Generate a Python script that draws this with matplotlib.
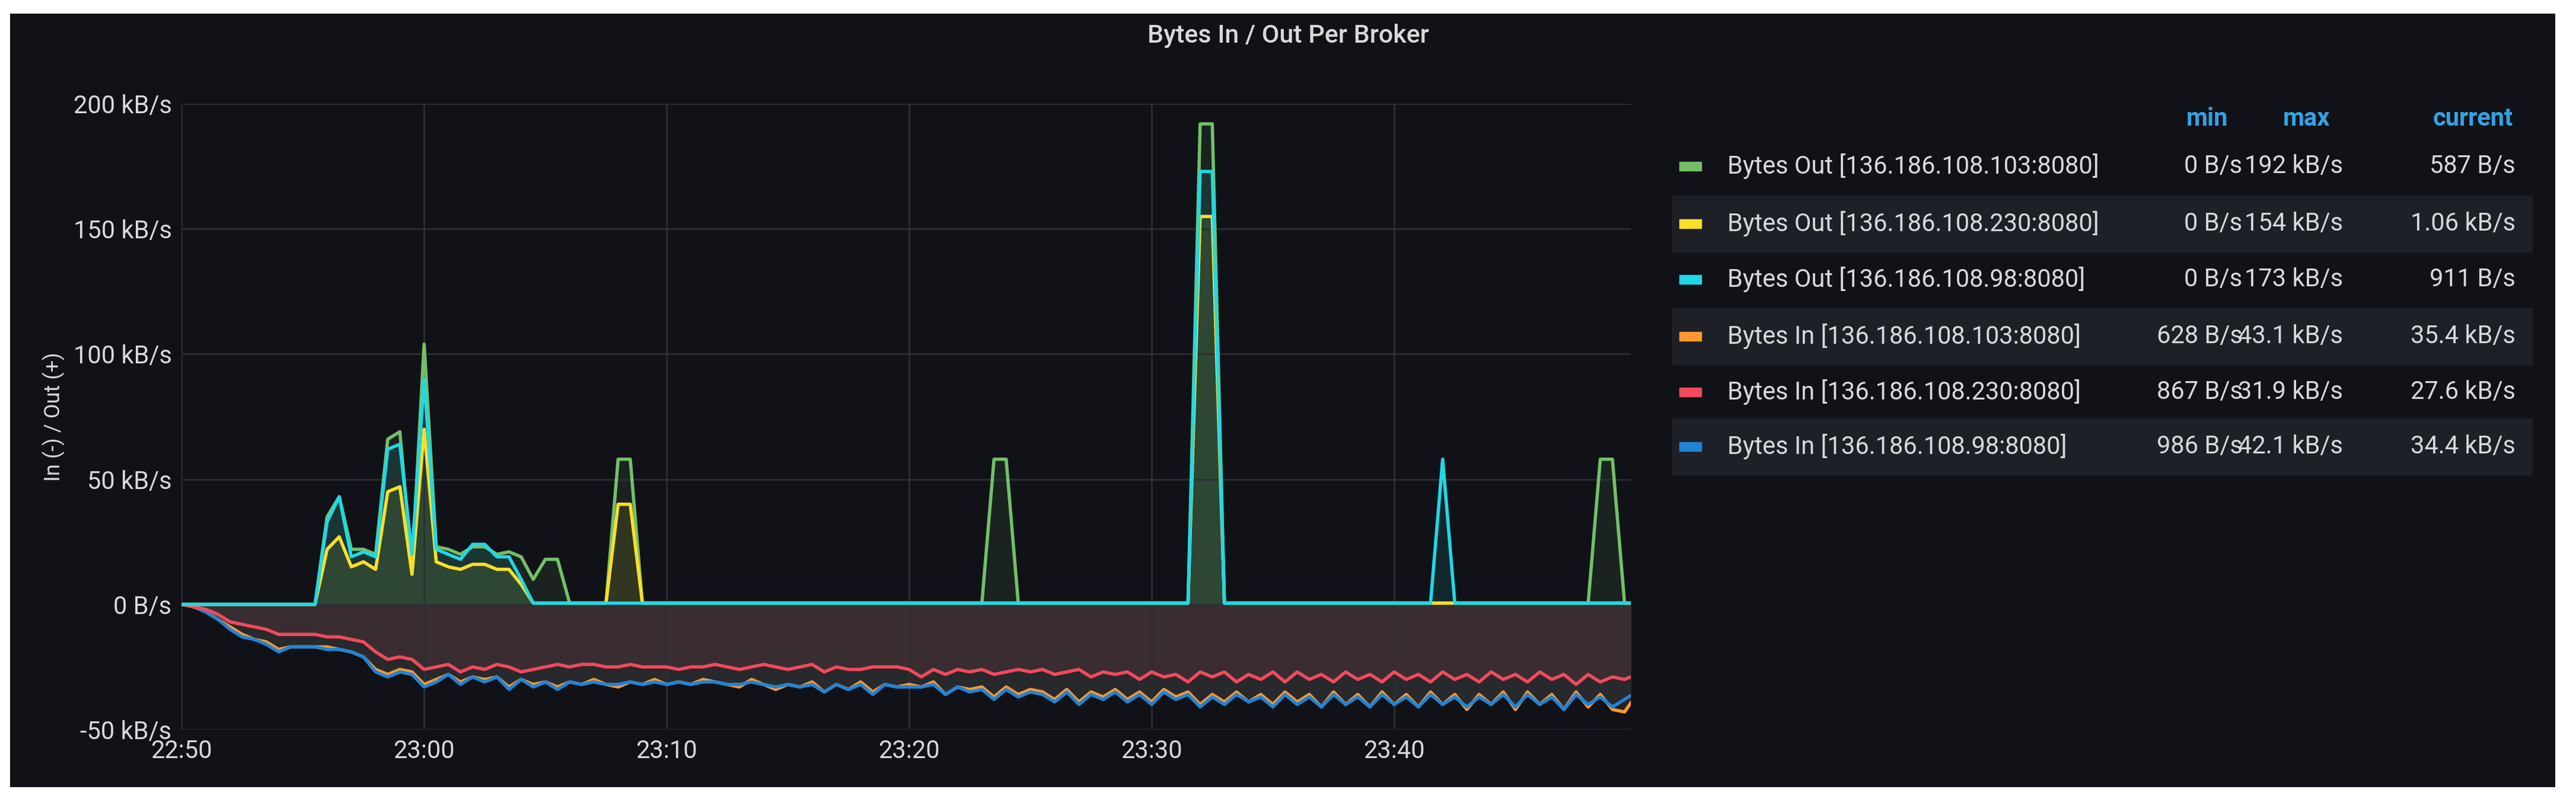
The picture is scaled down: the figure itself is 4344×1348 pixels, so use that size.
import numpy as np
import matplotlib.pyplot as plt
import matplotlib.dates as mdates
from datetime import datetime, timedelta

plt.rcParams['font.family'] = ['Roboto', 'DejaVu Sans']

# half-minute samples from 22:50 to 23:50
start = datetime(2020, 1, 1, 22, 50)
times = [start + timedelta(seconds=30 * i) for i in range(121)]

def spikes(pairs, base=0.5):
    v = [0.0] * 121
    for k in range(22, 121):
        v[k] = base
    for i, val in pairs:
        v[i] = val
    return v

# Bytes Out (positive)
out_103 = spikes([(11, 0), (12, 35), (13, 43), (14, 22), (15, 22), (16, 20), (17, 66), (18, 69), (19, 15),
                  (20, 104), (21, 23), (22, 22), (23, 20), (24, 23), (25, 23), (26, 20), (27, 21), (28, 19),
                  (29, 10), (30, 18), (31, 18), (32, 0.5), (35, 0.5), (36, 58), (37, 58),
                  (67, 58), (68, 58), (84, 192), (85, 192), (117, 58), (118, 58)])
out_230 = spikes([(11, 0), (12, 22), (13, 27), (14, 15), (15, 17), (16, 14), (17, 45), (18, 47), (19, 12),
                  (20, 70), (21, 17), (22, 15), (23, 14), (24, 16), (25, 16), (26, 14), (27, 14), (28, 8),
                  (36, 40), (37, 40), (84, 155), (85, 155)])
out_98 = spikes([(11, 0), (12, 33), (13, 43), (14, 19), (15, 21), (16, 19), (17, 62), (18, 64), (19, 20),
                 (20, 90), (21, 22), (22, 20), (23, 18), (24, 24), (25, 24), (26, 19), (27, 19), (28, 10),
                 (84, 173), (85, 173), (104, 58)])

# Bytes In (drawn negative)
in_230 = [0, -1, -2, -4, -7, -8, -9, -10, -12, -12, -12,
          -12, -13, -13, -14, -15, -19, -22, -21, -22, -26,
          -25, -24, -27, -25, -26, -24, -25, -27, -26, -25,
          -24, -25, -24, -24, -25, -25, -24, -25, -25, -25,
          -26, -25, -25, -24, -25, -26, -25, -24, -25, -26,
          -25, -24, -27, -25, -26, -26, -25, -25, -25, -26,
          -29, -26, -28, -26, -27, -26, -28, -27, -26, -27,
          -26, -28, -27, -26, -29, -27, -28, -27, -30, -27,
          -29, -28, -31, -27, -29, -27, -31, -28, -30, -27,
          -31, -27, -30, -28, -31, -27, -30, -28, -31, -27,
          -30, -28, -31, -27, -30, -28, -31, -27, -30, -28,
          -31, -27, -30, -28, -32, -28, -31, -29, -30, -28]
in_98 = [0, -1, -3, -6, -10, -13, -14, -16, -19, -17, -17,
         -17, -18, -18, -19, -21, -27, -29, -27, -28, -33,
         -31, -28, -32, -29, -31, -29, -34, -30, -33, -31,
         -34, -31, -32, -31, -32, -32, -31, -32, -31, -32,
         -31, -32, -31, -31, -32, -32, -31, -32, -33, -32,
         -33, -32, -35, -32, -34, -32, -36, -32, -33, -33,
         -33, -32, -36, -33, -35, -34, -38, -34, -37, -35,
         -36, -39, -35, -40, -36, -38, -35, -39, -36, -40,
         -35, -38, -36, -41, -37, -40, -36, -39, -37, -41,
         -36, -40, -37, -41, -36, -40, -37, -41, -36, -40,
         -37, -41, -36, -40, -37, -41, -37, -40, -36, -41,
         -36, -40, -37, -42, -36, -40, -37, -41, -38, -35]
in_103 = [0, -1, -3, -6, -9, -12, -14, -15, -18, -17, -17,
          -17, -17, -18, -19, -21, -26, -28, -26, -27, -32,
          -30, -28, -31, -29, -30, -29, -33, -30, -32, -31,
          -33, -31, -32, -30, -32, -33, -31, -32, -30, -32,
          -31, -32, -30, -31, -32, -33, -30, -32, -34, -32,
          -33, -31, -35, -32, -34, -31, -35, -32, -33, -32,
          -33, -31, -36, -33, -34, -33, -37, -33, -36, -34,
          -35, -38, -34, -39, -35, -37, -34, -38, -35, -39,
          -34, -37, -35, -40, -36, -39, -35, -39, -36, -40,
          -35, -39, -36, -41, -35, -40, -36, -41, -35, -40,
          -36, -41, -35, -40, -36, -42, -36, -40, -35, -42,
          -35, -40, -36, -42, -35, -41, -36, -42, -43, -36]

labels = ["Bytes Out [136.186.108.103:8080]", "Bytes Out [136.186.108.230:8080]",
          "Bytes Out [136.186.108.98:8080]", "Bytes In [136.186.108.103:8080]",
          "Bytes In [136.186.108.230:8080]", "Bytes In [136.186.108.98:8080]"]
mins = ["0 B/s", "0 B/s", "0 B/s", "628 B/s", "867 B/s", "986 B/s"]
maxs = ["192 kB/s", "154 kB/s", "173 kB/s", "43.1 kB/s", "31.9 kB/s", "42.1 kB/s"]
currents = ["587 B/s", "1.06 kB/s", "911 B/s", "35.4 kB/s", "27.6 kB/s", "34.4 kB/s"]
colors = ["#73bf69", "#fade2a", "#1fd8e6", "#ff9830", "#f2495c", "#1f84d6"]
series = [out_103, out_230, out_98, in_103, in_230, in_98]

bg = "#111217"
txt = "#d8d9da"
fig = plt.figure(figsize=(43.44, 13.48), dpi=100, facecolor="white")
panel = fig.add_axes([0.004, 0.015, 0.988, 0.968])
panel.set_facecolor(bg)
panel.set_xticks([]); panel.set_yticks([])
for s in panel.spines.values():
    s.set_visible(False)

ax = fig.add_axes([0.0705, 0.087, 0.5625, 0.783])
ax.set_facecolor(bg)
for idx in [4, 3, 5, 0, 1, 2]:
    ax.fill_between(times, series[idx], 0, color=colors[idx], alpha=0.1, lw=0)
for idx in [3, 5, 4, 0, 1, 2]:
    ax.plot(times, series[idx], color=colors[idx], lw=4)

ax.set_ylim(-50, 200)
ax.set_xlim(times[0], start + timedelta(minutes=59, seconds=45))
ax.set_yticks([-50, 0, 50, 100, 150, 200])
ax.set_yticklabels(["-50 kB/s", "0 B/s", "50 kB/s", "100 kB/s", "150 kB/s", "200 kB/s"])
ax.xaxis.set_major_locator(mdates.MinuteLocator(byminute=[0, 10, 20, 30, 40, 50]))
ax.xaxis.set_major_formatter(mdates.DateFormatter("%H:%M"))
ax.grid(color="#2c2f35", lw=2)
ax.tick_params(colors=txt, labelsize=30, length=0, pad=12)
for s in ax.spines.values():
    s.set_visible(False)
ax.set_ylabel("In (-) / Out (+)", color=txt, fontsize=26, labelpad=10)

fig.text(0.5, 0.955, "Bytes In / Out Per Broker", ha="center", va="center",
         color=txt, fontsize=31, fontweight="medium")

# legend table
row_y = [0.792, 0.720, 0.650, 0.579, 0.509, 0.441]
hdr_y = 0.851
x_min, x_max, x_cur = 0.8705, 0.9095, 0.9765
fs = 30
fig.text(0.865, hdr_y, "min", ha="right", va="center", color="#33a2e5", fontsize=fs, fontweight="bold")
fig.text(0.9045, hdr_y, "max", ha="right", va="center", color="#33a2e5", fontsize=fs, fontweight="bold")
fig.text(0.9755, hdr_y, "current", ha="right", va="center", color="#33a2e5", fontsize=fs, fontweight="bold")
for i, y in enumerate(row_y):
    if i % 2 == 1:
        fig.patches.append(plt.Rectangle((0.649, y - 0.035), 0.334, 0.07, transform=fig.transFigure,
                                         color="#1e2028", zorder=1))
    fig.patches.append(plt.Rectangle((0.652, y - 0.0055), 0.0085, 0.011, transform=fig.transFigure,
                                     color=colors[i], zorder=2))
    fig.text(0.6705, y, labels[i], va="center", color=txt, fontsize=fs, zorder=3)
    fig.text(x_min, y, mins[i], ha="right", va="center", color=txt, fontsize=fs, zorder=3)
    fig.text(x_max, y, maxs[i], ha="right", va="center", color=txt, fontsize=fs, zorder=3)
    fig.text(x_cur, y, currents[i], ha="right", va="center", color=txt, fontsize=fs, zorder=3)

fig.savefig("out.png", dpi=100, facecolor="white")
